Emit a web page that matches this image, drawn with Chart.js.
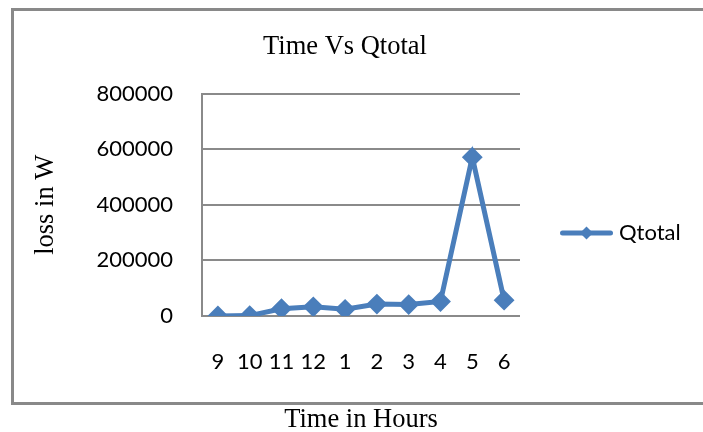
<!DOCTYPE html>
<html>
<head>
<meta charset="utf-8">
<script src="https://cdn.jsdelivr.net/npm/chart.js@4/dist/chart.umd.min.js"></script>
<style>
  html, body { margin: 0; padding: 0; background: #fff; }
  #wrap { width: 703px; height: 432px; position: relative; }
</style>
</head>
<body>
<div id="wrap"><canvas id="c" width="703" height="432"></canvas></div>
<script>
const categories = ['9', '10', '11', '12', '1', '2', '3', '4', '5', '6'];
const qtotal = [0, 1500, 26000, 33000, 24000, 43000, 41000, 52000, 571000, 57000];
const yTicks = [0, 200000, 400000, 600000, 800000];
const seriesName = 'Qtotal';
const chartTitle = 'Time Vs Qtotal';
const xTitle = 'Time in Hours';
const yTitle = 'loss in W';

const BLUE = '#4A7EBB';
const GRID = '#8a8a8a';

// legend symbol: line with a diamond
const sym = document.createElement('canvas');
sym.width = 53; sym.height = 16;
(function () {
  const g = sym.getContext('2d');
  g.strokeStyle = BLUE; g.lineWidth = 5; g.lineCap = 'round';
  g.beginPath(); g.moveTo(2.5, 8); g.lineTo(50.5, 8); g.stroke();
  g.fillStyle = BLUE;
  g.beginPath(); g.moveTo(26.5, 1.5); g.lineTo(33, 8); g.lineTo(26.5, 14.5); g.lineTo(20, 8); g.closePath(); g.fill();
})();

const framePlugin = {
  id: 'frame',
  beforeDraw(chart) {
    const ctx = chart.ctx;
    ctx.save();
    ctx.strokeStyle = '#898989';
    ctx.lineWidth = 3;
    ctx.strokeRect(12.5, 9.5, 760, 394);
    ctx.restore();
  }
};

new Chart(document.getElementById('c'), {
  type: 'line',
  data: {
    labels: categories,
    datasets: [{
      label: seriesName,
      data: qtotal,
      borderColor: BLUE,
      backgroundColor: BLUE,
      borderWidth: 5,
      pointStyle: 'rectRot',
      pointRadius: 9,
      pointBorderWidth: 2,
      pointBackgroundColor: BLUE,
      pointBorderColor: BLUE,
      tension: 0,
      fill: false
    }]
  },
  options: {
    responsive: false,
    animation: false,
    devicePixelRatio: 1,
    layout: { padding: { top: 34, bottom: 0, left: 0, right: 13 } },
    plugins: {
      title: {
        display: true,
        text: chartTitle,
        color: '#000',
        font: { family: 'Liberation Serif', size: 26.5, weight: 'normal', lineHeight: 1 },
        padding: { top: 0, bottom: 33 }
      },
      legend: {
        position: 'right',
        maxWidth: 170,
        labels: {
          usePointStyle: true,
          pointStyleWidth: 43,
          padding: 45,
          color: '#000',
          font: { family: 'Lato', size: 22 },
          generateLabels(chart) {
            const items = Chart.defaults.plugins.legend.labels.generateLabels(chart);
            items.forEach(it => { it.pointStyle = sym; });
            return items;
          }
        }
      },
      tooltip: { enabled: false }
    },
    scales: {
      x: {
        offset: true,
        afterFit(scale) { scale.height = 116; },
        grid: { display: false, drawTicks: false },
        border: { display: false },
        ticks: { color: '#000', font: { family: 'Lato', size: 22 }, padding: 33, maxRotation: 0, autoSkip: false },
        title: {
          display: true, text: xTitle, color: '#000',
          font: { family: 'Liberation Serif', size: 26.5, lineHeight: 0.9 },
          padding: { top: 0, bottom: 0 }
        }
      },
      y: {
        min: 0, max: 800000,
        afterFit(scale) { scale.width = 202; },
        afterBuildTicks(scale) { scale.ticks = yTicks.map(v => ({ value: v })); },
        grid: { color: GRID, lineWidth: 2, drawTicks: false },
        border: { display: true, color: GRID, width: 2 },
        ticks: {
          color: '#000', font: { family: 'Lato', size: 22 }, padding: 29,
          callback: v => String(v)
        },
        title: {
          display: true, text: yTitle, color: '#000',
          font: { family: 'Liberation Serif', size: 26.5, lineHeight: 1 },
          padding: { top: 33, bottom: 0 }
        }
      }
    }
  },
  plugins: [framePlugin]
});
</script>
</body>
</html>
